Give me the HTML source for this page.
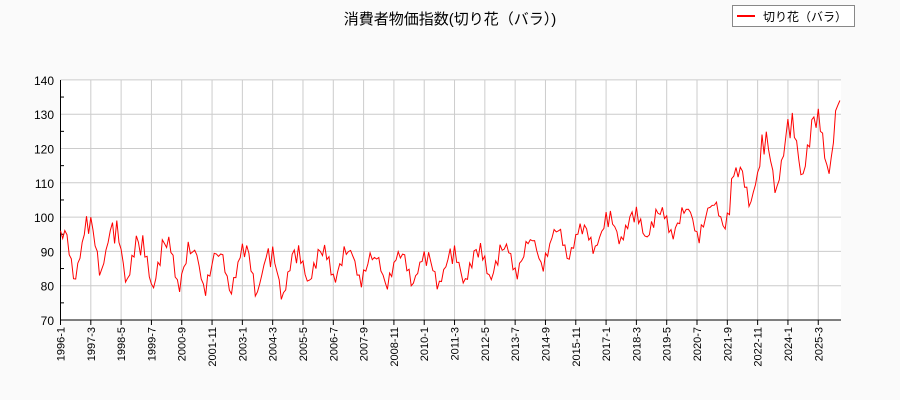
<!DOCTYPE html>
<html><head><meta charset="utf-8"><style>
body{margin:0;background:#fafafa;}
svg{display:block;font-family:"Liberation Sans","Noto Sans CJK JP",sans-serif;}
</style></head><body>
<svg id="s" width="900" height="400" xmlns="http://www.w3.org/2000/svg">
<rect width="900" height="400" fill="#fafafa"/>
<rect x="60.5" y="80" width="780.5" height="240" fill="#fff"/>
<text x="450" y="24" font-size="15" text-anchor="middle" fill="#000">消費者物価指数(切り花（バラ）)</text>
<rect x="732.5" y="5.5" width="122" height="21" fill="#fff" stroke="#888"/>
<line x1="737" y1="16" x2="755" y2="16" stroke="red" stroke-width="2"/>
<text x="763" y="21" font-size="12">切り花（バラ）</text>
<g id="g"></g>
</svg>
<script>
var g=document.getElementById('g'),h='';
var X0=60.5,PX=2.165,Y0=320,PY=3.43;
function y(v){return Y0-(v-70)*PY;}
for(var v=70;v<=140;v+=10){h+='<line x1="60.5" x2="841" y1="'+y(v)+'" y2="'+y(v)+'" stroke="#ccc"/>';
h+='<text x="54" y="'+(y(v)+5)+'" font-size="12" text-anchor="end">'+v+'</text>';}
for(var v=75;v<140;v+=10)h+='<line x1="60.5" x2="64" y1="'+y(v)+'" y2="'+y(v)+'" stroke="#000"/>';
for(var i=0;i<=350;i+=14){var x=X0+i*PX,yr=1996+Math.floor(i/12),m=i%12+1;
h+='<line x1="'+x+'" x2="'+x+'" y1="80" y2="320" stroke="#ccc"/>';
h+='<line x1="'+x+'" x2="'+x+'" y1="320" y2="325" stroke="#000"/>';
h+='<text transform="translate('+(x+4)+',327) rotate(-90)" font-size="11" text-anchor="end">'+yr+'-'+m+'</text>';}
h+='<line x1="60.5" x2="60.5" y1="80" y2="320" stroke="#000"/><line x1="60.5" x2="841" y1="320" y2="320" stroke="#000"/>';
var base=[90,93,91,87,88,86,85,86,84,86,87,87,85,86,85,86,87,88,90,93,94,97,98,99,99,100,109,116,121,123];
var amp=[1,1,1,.9,.9,.8,.8,.9,.9,.6,.6,.6,.6,.6,.6,.6,.6,.6,.6,.6,.5,.5,.5,.5,.6,.6,.8,1.1,1.1,1.1];
var seas=[6,3,7,3,0,-4,-8,-9,-5,-2,0,5];
var pts=[];
for(var i=0;i<=360;i++){var yi=Math.min(29,Math.floor(i/12)),f=(i%12)/12;
var b=base[yi]+(base[Math.min(29,yi+1)]-base[yi])*f*0.5;
var a=amp[yi];var v=b+seas[i%12]*a+Math.sin(i*2.7)*1.5;
if(i>=310&&i<=311)v+=6;
if(i>=358)v=131+ (i-358)*1.5;
pts.push((X0+i*PX).toFixed(1)+','+y(v).toFixed(1));}
h+='<polyline fill="none" stroke="red" stroke-width="1" points="'+pts.join(' ')+'"/>';
g.innerHTML=h;
</script>
</body></html>
